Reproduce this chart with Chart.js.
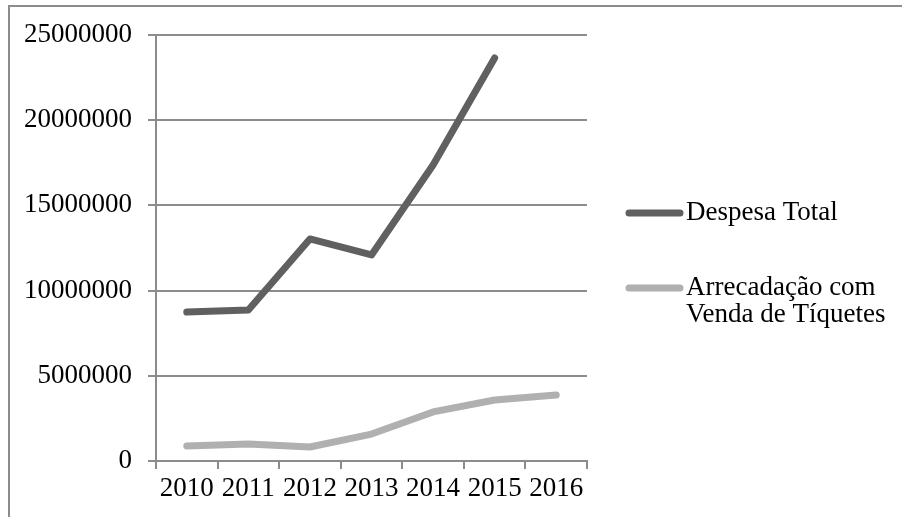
<!DOCTYPE html>
<html>
<head>
<meta charset="utf-8">
<script src="https://cdn.jsdelivr.net/npm/chart.js@4"></script>
<style>
  html, body { margin: 0; padding: 0; background: #fff; }
  #wrap { width: 902px; height: 517px; position: relative; }
</style>
</head>
<body>
<div id="wrap"><canvas id="chart" width="902" height="517"></canvas></div>
<script>
// data
const years = ['2010', '2011', '2012', '2013', '2014', '2015', '2016'];
const despesaTotal = [8740000, 8860000, 13030000, 12090000, 17370000, 23650000, null];
const arrecadacao = [880000, 1000000, 820000, 1580000, 2880000, 3580000, 3870000];
const seriesNames = ['Despesa Total', 'Arrecadação com Venda de Tíquetes'];
const seriesColors = ['#606060', '#b0b0b0'];

const FONT = '"Liberation Serif", "Times New Roman", serif';
const FSIZE = 27;
const AXIS = '#8c8c8c';

// frame round the whole chart (only top and left edges are visible)
const framePlugin = {
    id: 'frame',
    beforeDraw(chart) {
        const c = chart.ctx;
        c.save();
        c.strokeStyle = AXIS;
        c.lineWidth = 2;
        c.beginPath();
        c.moveTo(9, 517);
        c.lineTo(9, 6);
        c.lineTo(902, 6);
        c.stroke();
        c.restore();
    }
};

// legend on the right, line sample + wrapped text
const legendPlugin = {
    id: 'sideLegend',
    afterDraw(chart) {
        const c = chart.ctx;
        const rows = [213, 288];
        c.save();
        c.font = FSIZE + 'px ' + FONT;
        c.fillStyle = '#000';
        c.textBaseline = 'middle';
        chart.data.datasets.forEach((ds, i) => {
            const y = rows[i];
            c.strokeStyle = ds.borderColor;
            c.lineWidth = 7;
            c.lineCap = 'round';
            c.beginPath();
            c.moveTo(629, y);
            c.lineTo(680, y);
            c.stroke();
            // wrap words
            const words = ds.label.split(' ');
            let lines = [], cur = '';
            words.forEach(w => {
                const t = cur ? cur + ' ' + w : w;
                if (c.measureText(t).width > 210 && cur) { lines.push(cur); cur = w; }
                else cur = t;
            });
            lines.push(cur);
            lines.forEach((ln, k) => c.fillText(ln, 686, y + k * 27));
        });
        c.restore();
    }
};

const ctx = document.querySelector('#chart').getContext('2d');
const chart = new Chart(ctx, {
    type: 'line',
    data: {
        labels: years,
        datasets: [{
            label: seriesNames[0],
            data: despesaTotal,
            borderColor: seriesColors[0],
        },
            {
                label: seriesNames[1],
                data: arrecadacao,
                borderColor: seriesColors[1],
            }
        ]
    },
    options: {
        responsive: false,
        animation: false,
        layout: {
            padding: { left: 0, top: 35, right: 315, bottom: 0 }
        },
        elements: {
            point: { radius: 0 },
            line: { borderWidth: 7, borderCapStyle: 'round', borderJoinStyle: 'round', tension: 0 }
        },
        scales: {
            x: {
                offset: true,
                grid: {
                    offset: true,
                    drawOnChartArea: false,
                    color: AXIS,
                    lineWidth: 2,
                    tickLength: 8
                },
                border: { color: AXIS, width: 2 },
                ticks: {
                    color: '#000',
                    font: { family: FONT, size: FSIZE },
                    padding: 4,
                    maxRotation: 0,
                    autoSkip: false
                },
                afterFit(s) { s.height = 56; }
            },
            y: {
                min: 0,
                max: 25000000,
                grid: {
                    color: AXIS,
                    lineWidth: 2,
                    tickLength: 8
                },
                border: { color: AXIS, width: 2 },
                ticks: {
                    stepSize: 5000000,
                    color: '#000',
                    font: { family: FONT, size: FSIZE },
                    padding: 16,
                    callback: v => String(v)
                },
                afterFit(s) { s.width = 156; }
            }
        },
        plugins: {
            legend: { display: false },
            tooltip: { enabled: false },
            title: { display: false }
        }
    },
    plugins: [framePlugin, legendPlugin]
});
</script>
</body>
</html>
